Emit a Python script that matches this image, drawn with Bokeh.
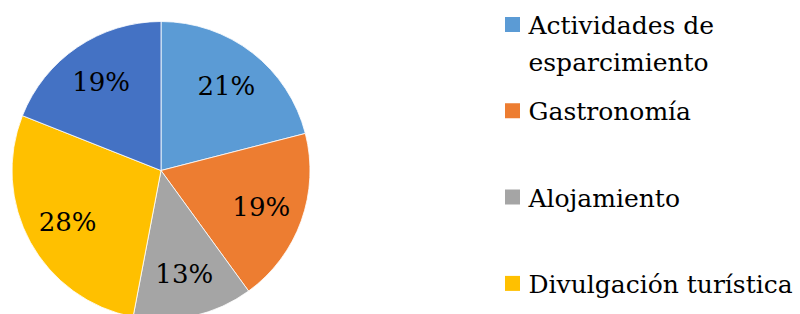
import math
from bokeh.plotting import figure
from bokeh.models import ColumnDataSource, Range1d
from bokeh.core.properties import value
from bokeh.embed import file_html
from bokeh.resources import INLINE

# ---- data ----
categories = ["Actividades de\nesparcimiento", "Gastronomía", "Alojamiento",
              "Divulgación turística", "Otros"]
shares = [21, 19, 13, 28, 19]
colors = ["#5B9BD5", "#ED7D31", "#A5A5A5", "#FFC000", "#4472C4"]
legend_count = 4  # only the first four entries are visible in the legend

W, H = 800, 314
FONT = "DejaVu Serif"

p = figure(width=W, height=H, output_backend="svg", toolbar_location=None,
           x_range=Range1d(0, W), y_range=Range1d(0, H),
           x_axis_type=None, y_axis_type=None, min_border=0)
p.grid.visible = False
p.outline_line_color = None
p.background_fill_color = "white"
p.border_fill_color = "white"

# ---- pie ----
cx, cy, R = 160.5, 144, 149
total = sum(shares)
starts, ends, lx, ly, labels = [], [], [], [], []
acc = 0.0
for v in shares:
    a0 = math.pi / 2 - 2 * math.pi * acc / total
    acc += v
    a1 = math.pi / 2 - 2 * math.pi * acc / total
    starts.append(a1)
    ends.append(a0)
    mid = (a0 + a1) / 2
    lx.append(cx + 0.715 * R * math.cos(mid))
    ly.append(cy + 0.715 * R * math.sin(mid))
    labels.append(f"{round(100 * v / total)}%")

src = ColumnDataSource(dict(start=starts, end=ends, color=colors,
                            lx=lx, ly=ly, label=labels))
p.wedge(x=cx, y=cy, radius=R, start_angle="start", end_angle="end",
        fill_color="color", line_color="white", line_width=0.8, source=src)
p.text(x="lx", y="ly", text="label", source=src, text_font=value(FONT),
       text_font_size="26px", text_align="center", text_baseline="middle",
       text_color="#000000")

# ---- legend (drawn manually) ----
fs = 25
line_gap = 37                  # pixel distance between wrapped lines
lh = line_gap / (fs * 1.164)   # DejaVu line box is ~1.164 em
leg_x_sq, leg_x_txt = 512, 528
leg_top, leg_step = 290, 86.3
sq_y = [leg_top - i * leg_step for i in range(legend_count)]
txt_y = [y - 1 - categories[i].count("\n") * line_gap / 2
         for i, y in enumerate(sq_y)]
leg_src = ColumnDataSource(dict(x=[leg_x_sq] * legend_count, sy=sq_y,
                                tx=[leg_x_txt] * legend_count, ty=txt_y,
                                color=colors[:legend_count],
                                label=categories[:legend_count]))
p.rect(x="x", y="sy", width=15, height=15, fill_color="color",
       line_color=None, source=leg_src)
p.text(x="tx", y="ty", text="label", source=leg_src, text_font=value(FONT),
       text_font_size=f"{fs}px", text_align="left", text_baseline="middle",
       text_line_height=lh, text_color="#000000")

open("out.html", "w").write(file_html(p, INLINE))
